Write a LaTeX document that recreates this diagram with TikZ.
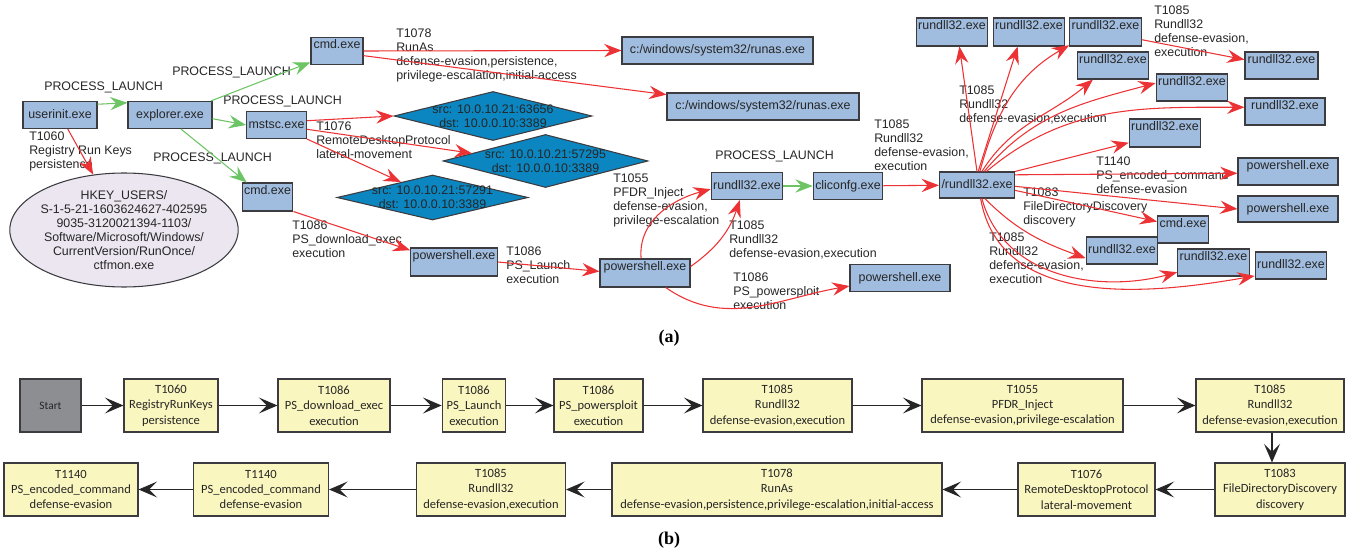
\documentclass[tikz,border=0pt]{standalone}
\usepackage{fontspec}
\setmainfont{Liberation Sans}
\newfontfamily\stagefont{Carlito}
\newfontfamily\capfont{Liberation Serif}
\usepackage{tikz}
\usetikzlibrary{arrows.meta,shapes.geometric,positioning}

\definecolor{exeblue}{RGB}{160,188,222}
\definecolor{dstblue}{RGB}{11,134,193}
\definecolor{keylilac}{RGB}{236,230,241}
\definecolor{attackred}{RGB}{236,50,52}
\definecolor{launchgreen}{RGB}{108,196,100}
\definecolor{stageyellow}{RGB}{250,246,192}
\definecolor{startgray}{RGB}{140,142,146}
\definecolor{boxline}{RGB}{60,60,64}
\definecolor{txtgray}{RGB}{38,38,38}

\begin{document}
\begin{tikzpicture}[x=0.75pt,y=-0.75pt,>={Stealth[length=13pt,width=10pt,inset=4.5pt]},
    wd/.style={minimum width=#1*0.75pt},ht/.style={minimum height=#1*0.75pt},
    font=\fontsize{9.3}{10.5}\selectfont]
    \tikzstyle{exe}=[rectangle, draw=boxline, fill=exeblue, line width=0.8pt, inner sep=1.5pt, text height=7pt, text depth=2pt, text=txtgray, ht=27]
    \tikzstyle{exetop}=[exe, text depth=10pt, inner ysep=1pt]
    \tikzstyle{dst}=[diamond, draw=boxline, fill=dstblue, line width=0.8pt, inner sep=0pt]
    \tikzstyle{regkey}=[ellipse, draw=boxline, fill=keylilac, line width=0.8pt, inner sep=-2pt, align=center, text=txtgray]
    \tikzstyle{lbl}=[anchor=north west, inner sep=0pt, align=left, text=txtgray]
    \tikzstyle{launch}=[draw=launchgreen, ->, line width=0.8pt]
    \tikzstyle{attack}=[draw=attackred, ->, line width=0.8pt]
    \tikzstyle{stage}=[rectangle, draw=boxline, fill=stageyellow, line width=0.8pt, align=center, ht=53, font=\stagefont\fontsize{9.4}{11.6}\selectfont, text=txtgray]
    \tikzstyle{flow}=[draw=black!85, -{Stealth[length=14pt,width=12pt,inset=6pt]}, line width=0.8pt]

    \useasboundingbox (0,0) rectangle (1347,552);

    % (a) process graph
    \node[exe, wd=74]      (ui)   at (60,115)    {userinit.exe};
    \node[exe, wd=84]      (ex)   at (170,115)   {explorer.exe};
    \node[exetop, wd=52]   (cmdA) at (337,51)    {cmd.exe};
    \node[exe, wd=57]      (ms)   at (276.5,125) {mstsc.exe};
    \node[exetop, wd=49, ht=28] (cmdB) at (267.5,197) {cmd.exe};
    \node[regkey, wd=228, ht=114] (reg) at (124,230)
        {HKEY\_USERS/\\S-1-5-21-1603624627-402595\\9035-3120021394-1103/\\Software/Microsoft/Windows/\\CurrentVersion/RunOnce/\\ctfmon.exe};
    \node[exe, wd=191]     (ra1)  at (717.5,50.5) {c:/windows/system32/runas.exe};
    \node[exe, wd=192]     (ra2)  at (763,106.5)  {c:/windows/system32/runas.exe};
    \node[dst, wd=198, ht=49] (d1) at (493,116)
        [label={[align=center, text=txtgray]center:{src: 10.0.10.21:63656\\dst: 10.0.0.10:3389}}] {};
    \node[dst, wd=205, ht=53] (d2) at (545.5,161)
        [label={[align=center, text=txtgray]center:{src: 10.0.10.21:57295\\dst: 10.0.0.10:3389}}] {};
    \node[dst, wd=191, ht=45] (d3) at (432.5,197.5)
        [label={[align=center, text=txtgray]center:{src: 10.0.10.21:57291\\dst: 10.0.0.10:3389}}] {};
    \node[exetop, wd=85, ht=28] (psA) at (454,262) {powershell.exe};
    \node[exetop, wd=90, ht=28] (psB) at (645,273) {powershell.exe};
    \node[exe, wd=71]      (rdC)  at (747,186)   {rundll32.exe};
    \node[exe, wd=66]      (cli)  at (848,186)   {cliconfg.exe};
    \node[exe, wd=100]     (psD)  at (900,278)   {powershell.exe};
    \node[exe, wd=72, ht=26] (hub) at (977,185)  {/rundll32.exe};

    \node[exetop, wd=68, ht=28] (r1) at (952,32)     {rundll32.exe};
    \node[exetop, wd=68, ht=28] (r2) at (1029,32)    {rundll32.exe};
    \node[exetop, wd=67, ht=28] (r3) at (1105.5,32)  {rundll32.exe};
    \node[exetop, wd=73]  (r4)  at (1281.5,65.5)     {rundll32.exe};
    \node[exetop, wd=68]  (r5)  at (1113,65.5)       {rundll32.exe};
    \node[exetop, wd=68]  (r6)  at (1192,87.5)       {rundll32.exe};
    \node[exetop, wd=80]  (r7)  at (1285,111.5)      {rundll32.exe};
    \node[exetop, wd=68, ht=28] (r8) at (1165,133)   {rundll32.exe};
    \node[exetop, wd=100] (p1)  at (1288,171.5)      {powershell.exe};
    \node[exe, wd=100, ht=26] (p2) at (1288,209)     {powershell.exe};
    \node[exetop, wd=50]  (c3)  at (1183,229.5)      {cmd.exe};
    \node[exe, wd=68]     (r9)  at (1122,250.5)      {rundll32.exe};
    \node[exetop, wd=71]  (r10) at (1213.5,262.5)    {rundll32.exe};
    \node[exe, wd=68]     (r11) at (1291,265.5)      {rundll32.exe};

    % edge texts
    \node[lbl] (pl1) at (44,82)   {PROCESS\_LAUNCH};
    \node[lbl] (pl2) at (172,67)  {PROCESS\_LAUNCH};
    \node[lbl] (pl3) at (223,96)  {PROCESS\_LAUNCH};
    \node[lbl] (pl4) at (153,153) {PROCESS\_LAUNCH};
    \node[lbl] (pl5) at (715,151) {PROCESS\_LAUNCH};
    \node[lbl] (t1060) at (29,132)  {T1060\\Registry Run Keys\\persistence};
    \node[lbl] (t1078) at (396,29)  {T1078\\RunAs\\defense-evasion,persistence,\\privilege-escalation,initial-access};
    \node[lbl] (t1076) at (316,122) {T1076\\RemoteDesktopProtocol\\lateral-movement};
    \node[lbl] (t1086a) at (292,221) {T1086\\PS\_download\_exec\\execution};
    \node[lbl] (t1086b) at (506,247) {T1086\\PS\_Launch\\execution};
    \node[lbl] (t1055) at (613,174) {T1055\\PFDR\_Inject\\defense-evasion,\\privilege-escalation};
    \node[lbl] (t1085a) at (729,221) {T1085\\Rundll32\\defense-evasion,execution};
    \node[lbl] (t1086c) at (733,273) {T1086\\PS\_powersploit\\execution};
    \node[lbl] (t1085b) at (874,120) {T1085\\Rundll32\\defense-evasion,\\execution};
    \node[lbl] (t1085c) at (959,86)  {T1085\\Rundll32\\defense-evasion,execution};
    \node[lbl] (t1085d) at (1154,6)  {T1085\\Rundll32\\defense-evasion,\\execution};
    \node[lbl] (t1140) at (1096,157) {T1140\\PS\_encoded\_command\\defense-evasion};
    \node[lbl] (t1083) at (1023,188) {T1083\\FileDirectoryDiscovery\\discovery};
    \node[lbl] (t1085e) at (989,233) {T1085\\Rundll32\\defense-evasion,\\execution};

    \path (ui.16) edge[launch] (ex.164);
    \path (ex.19) edge[launch] (cmdA.203);
    \path (ex.-5) edge[launch] (ms.west);
    \path (ex.-52) edge[launch] (cmdB.145);
    \path (rdC) edge[launch] (cli);

    \path (ui) edge[attack] (reg);
    \path (cmdA.east) edge[attack] (ra1.west);
    \path (cmdA.-10) edge[attack] (ra2.173);
    \path (ms.8) edge[attack] (d1.west);
    \path (ms.-8) edge[attack] (d2.174);
    \path (ms.south east) edge[attack] (d3.154);
    \path (cmdB.south east) edge[attack] (psA.165);
    \path (psA.east) edge[attack] (psB.178);
    \path (psB.105) edge[attack, out=95, in=195] (rdC.185);
    \path (psB.8) edge[attack, bend right=18] (rdC.243);
    \path (psB.-35) edge[attack, out=-35, in=190] (psD.189);
    \path (cli) edge[attack] (hub);

    \path (hub.north) edge[attack] (r1.-63);
    \path (hub.85) edge[attack] (r2.232);
    \path (hub.78) edge[attack, out=75, in=210] (r3.200);
    \path (hub.70) edge[attack, out=58, in=220] (r5.215);
    \path (hub.62) edge[attack, out=50, in=195] (r6.173);
    \path (hub.55) edge[attack, out=40, in=180] (r7.174);
    \path (r3.-12) edge[attack] (r4.171);
    \path (hub.north east) edge[attack] (r8.195);
    \path (hub.15) edge[attack] (p1.182);
    \path (hub.-2) edge[attack] (p2.west);
    \path (hub.-8) edge[attack] (c3.163);
    \path (hub.-60) edge[attack, out=-45, in=160] (r9.192);
    \path (hub.-70) edge[attack, out=-75, in=195] (r10.195);
    \path (hub.-75) edge[attack, out=-80, in=190] (r11.196);

    \node[font=\capfont\bfseries\fontsize{13.5}{14}\selectfont] (capa) at (669,338) {(a)};

    % (b) technique chain
    \node[stage, fill=startgray, wd=61] (st) at (50.5,405.5) {\fontsize{8.5}{10}\selectfont Start};
    \node[stage, wd=94]  (b1)  at (171,405.5)    {T1060\\RegistryRunKeys\\persistence};
    \node[stage, wd=112] (b2)  at (334,405.5)    {T1086\\PS\_download\_exec\\execution};
    \node[stage, wd=62]  (b3)  at (474,405.5)    {T1086\\PS\_Launch\\execution};
    \node[stage, wd=89]  (b4)  at (598.5,405.5)  {T1086\\PS\_powersploit\\execution};
    \node[stage, wd=149] (b5)  at (777.5,405.5)  {T1085\\Rundll32\\defense-evasion,execution};
    \node[stage, wd=201] (b6)  at (1022.5,405.5) {T1055\\PFDR\_Inject\\defense-evasion,privilege-escalation};
    \node[stage, wd=148] (b7)  at (1270,405.5)   {T1085\\Rundll32\\defense-evasion,execution};
    \node[stage, wd=130] (b8)  at (1280,489.5)   {T1083\\FileDirectoryDiscovery\\discovery};
    \node[stage, wd=137] (b9)  at (1086.5,489.5) {T1076\\RemoteDesktopProtocol\\lateral-movement};
    \node[stage, wd=330] (b10) at (777,489.5)    {T1078\\RunAs\\defense-evasion,persistence,privilege-escalation,initial-access};
    \node[stage, wd=149] (b11) at (491,489.5)    {T1085\\Rundll32\\defense-evasion,execution};
    \node[stage, wd=135] (b12) at (261,489.5)    {T1140\\PS\_encoded\_command\\defense-evasion};
    \node[stage, wd=134] (b13) at (71,489.5)     {T1140\\PS\_encoded\_command\\defense-evasion};

    \path (st) edge[flow] (b1);
    \path (b1) edge[flow] (b2);
    \path (b2) edge[flow] (b3);
    \path (b3) edge[flow] (b4);
    \path (b4) edge[flow] (b5);
    \path (b5) edge[flow] (b6);
    \path (b6) edge[flow] (b7);
    \path ([xshift=1.5pt]b7.south) edge[flow] ([xshift=1.5pt]b7.south |- b8.north);
    \path (b8) edge[flow] (b9);
    \path (b9) edge[flow] (b10);
    \path (b10) edge[flow] (b11);
    \path (b11) edge[flow] (b12);
    \path (b12) edge[flow] (b13);

    \node[font=\capfont\bfseries\fontsize{13.5}{14}\selectfont] (capb) at (669,540) {(b)};
\end{tikzpicture}
\end{document}
